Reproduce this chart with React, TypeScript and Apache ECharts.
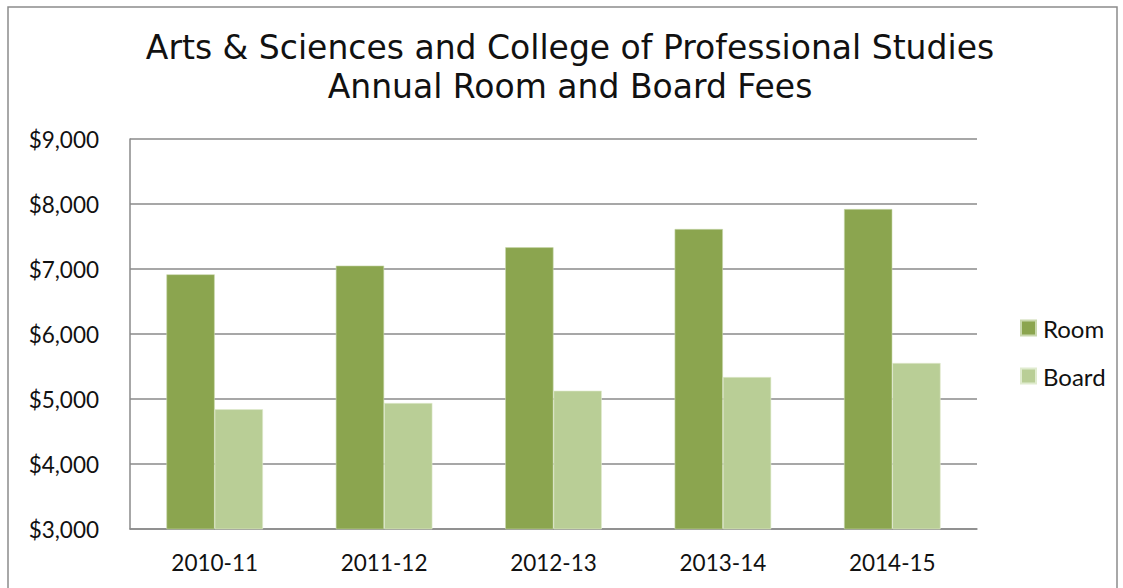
import React, { useEffect, useRef } from "react";
import * as echarts from "echarts";

const categories = ["2010-11", "2011-12", "2012-13", "2013-14", "2014-15"];
const roomFees = [6918, 7052, 7334, 7615, 7922];
const boardFees = [4842, 4938, 5128, 5338, 5554];
const titleLines = ["Arts & Sciences and College of Professional Studies", "Annual Room and Board Fees"];

export default function App() {
  const ref = useRef<HTMLDivElement>(null);
  useEffect(() => {
    document.body.style.margin = "0";
    const chart = echarts.init(ref.current!, null, { renderer: "svg" });
    const font = "Lato, 'Open Sans', sans-serif";
    chart.setOption({
      animation: false,
      backgroundColor: "#ffffff",
      graphic: [
        {
          type: "rect",
          shape: { x: 8, y: 7, width: 1109, height: 620 },
          style: { fill: "none", stroke: "#8c8c8c", lineWidth: 1.5 },
          silent: true,
        },
      ],
      title: {
        text: titleLines.join("\n"),
        left: 570,
        top: 28,
        textAlign: "center",
        padding: 0,
        textStyle: {
          fontFamily: "'DejaVu Sans', sans-serif",
          fontWeight: "normal",
          fontSize: 33,
          lineHeight: 39,
          color: "#111111",
        },
      },
      legend: {
        orient: "vertical",
        left: 1020,
        top: 316,
        padding: 0,
        itemWidth: 15,
        itemHeight: 15,
        itemGap: 24,
        icon: "rect",
        textStyle: { fontFamily: font, fontSize: 24, color: "#111111", padding: [0, 0, 0, 2] },
        data: ["Room", "Board"],
      },
      grid: { left: 130, right: 146, top: 139, bottom: 59, containLabel: false },
      xAxis: {
        type: "category",
        data: categories,
        axisLine: { show: true, lineStyle: { color: "#8a8a8a", width: 1.5 } },
        axisTick: { show: false },
        axisLabel: { fontFamily: font, fontSize: 22.5, color: "#111111", margin: 22 },
      },
      yAxis: {
        type: "value",
        min: 3000,
        max: 9000,
        interval: 1000,
        axisLine: { show: true, lineStyle: { color: "#8a8a8a", width: 1.5 } },
        axisTick: { show: false },
        splitLine: { show: true, lineStyle: { color: "#8a8a8a", width: 1.5 } },
        axisLabel: {
          fontFamily: font,
          fontSize: 22.5,
          color: "#111111",
          margin: 31,
          formatter: (v: number) => "$" + v.toLocaleString("en-US"),
        },
      },
      series: [
        {
          name: "Room",
          type: "bar",
          data: roomFees,
          barGap: "0%",
          barCategoryGap: "43%",
          itemStyle: { color: "#8ba54f", borderColor: "#c9d8ad", borderWidth: 0.6 },
        },
        {
          name: "Board",
          type: "bar",
          data: boardFees,
          itemStyle: { color: "#b9ce96", borderColor: "#e0ebcf", borderWidth: 0.6 },
        },
      ],
    });
    return () => chart.dispose();
  }, []);
  return <div ref={ref} style={{ width: 1123, height: 588 }} />;
}
